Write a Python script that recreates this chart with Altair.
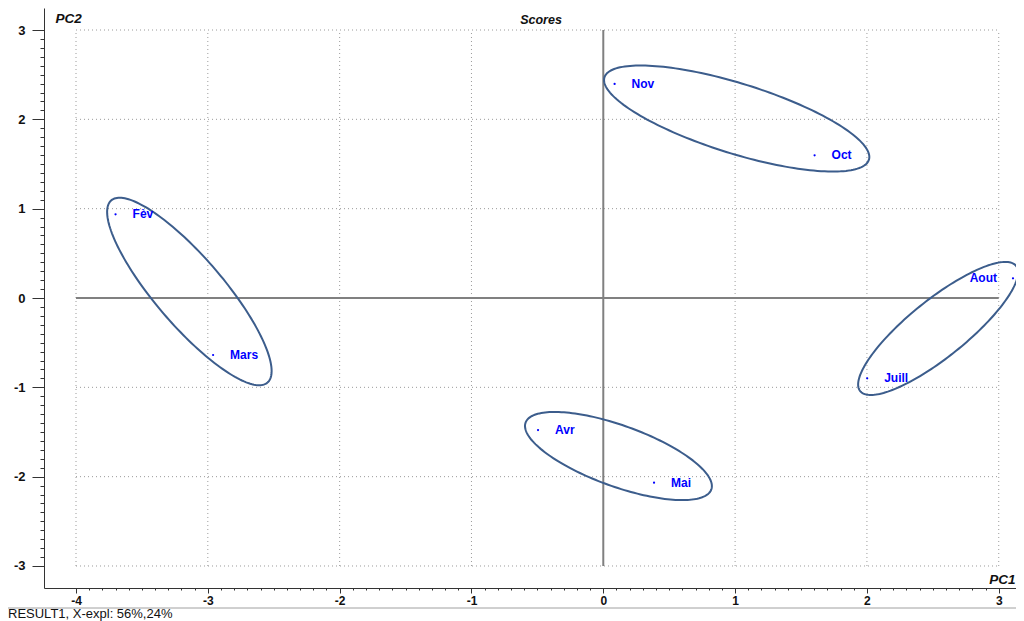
import math
import altair as alt
import pandas as pd

# ---------------- data ----------------
months = ["Fèv", "Mars", "Nov", "Oct", "Aout", "Juill", "Avr", "Mai"]
pc1 = [-3.70, -2.96, 0.086, 1.603, 3.108, 2.002, -0.495, 0.385]
pc2 = [0.937, -0.638, 2.396, 1.597, 0.220, -0.899, -1.478, -2.067]
label_side = ["r", "r", "r", "r", "l", "r", "r", "r"]

# group ellipses: centre (data units), half axes (px), rotation (deg, counter-clockwise)
ell_cx = [-3.140, 1.012, 2.540, 0.115]
ell_cy = [0.073, 2.009, -0.341, -1.769]
ell_a = [120, 138.5, 100, 98.7]
ell_b = [34, 35, 28.7, 30.5]
ell_rot = [-49.4, -17.3, 38.8, -19.8]

major_x = [-4, -3, -2, -1, 0, 1, 2, 3]
major_y = [-3, -2, -1, 0, 1, 2, 3]
minor_x = [round(i * 0.1, 1) for i in range(-40, 31)]
minor_y = [round(i * 0.1, 1) for i in range(-30, 31)]

XDOM = [-4.2428, 3.1309]
YDOM = [-3.2463, 3.2463]
W, H = 972, 580
PXX = W / (XDOM[1] - XDOM[0])
PXY = H / (YDOM[1] - YDOM[0])

FONT = "Liberation Sans"
BLUE = "#0000ff"

pts = pd.DataFrame({"x": pc1, "y": pc2, "m": months, "side": label_side})

rows = []
for k in range(len(ell_cx)):
    th = math.radians(ell_rot[k])
    for i in range(181):
        t = 2 * math.pi * i / 180
        dx = ell_a[k] * math.cos(t) * math.cos(th) - ell_b[k] * math.sin(t) * math.sin(th)
        dy = ell_a[k] * math.cos(t) * math.sin(th) + ell_b[k] * math.sin(t) * math.cos(th)
        rows.append({"e": k, "o": i, "x": ell_cx[k] + dx / PXX, "y": ell_cy[k] + dy / PXY})
ell = pd.DataFrame(rows)

xs = alt.Scale(domain=XDOM, nice=False, zero=False)
ys = alt.Scale(domain=YDOM, nice=False, zero=False)

is_int = "abs(datum.value - round(datum.value)) < 0.001"

xaxis = alt.Axis(
    values=minor_x, grid=False, labelExpr=f"{is_int} ? '' + round(datum.value) : ''",
    tickSize={"condition": {"test": is_int, "value": 5}, "value": 2},
    tickColor="#333", domainColor="#333", labelColor="#111",
    labelFont=FONT, labelFontSize=12, labelFontWeight="bold", labelPadding=2,
    labelOverlap=False, labelFlush=False,
    title="PC1", titleFont=FONT, titleFontSize=13.5, titleFontStyle="italic",
    titleFontWeight="bold", titleAlign="right", titleBaseline="alphabetic",
    titleX=971, titleY=-5, titleColor="#111",
)
yaxis = alt.Axis(
    values=minor_y, grid=False, labelExpr=f"{is_int} ? '' + round(datum.value) : ''",
    tickSize={"condition": {"test": is_int, "value": 12}, "value": 4},
    tickColor="#333", domainColor="#333", labelColor="#111",
    labelFont=FONT, labelFontSize=13, labelFontWeight="bold", labelPadding=7,
    labelOverlap=False, labelFlush=False,
    title="PC2", titleFont=FONT, titleFontSize=13.5, titleFontStyle="italic",
    titleFontWeight="bold", titleAngle=0, titleAlign="left", titleBaseline="alphabetic",
    titleX=11, titleY=14, titleColor="#111",
)


def X(field="x"):
    return alt.X(f"{field}:Q", scale=xs, axis=xaxis)


def Y(field="y"):
    return alt.Y(f"{field}:Q", scale=ys, axis=yaxis)


gv = pd.DataFrame({"x": [v for v in major_x if v != 0], "y": -3, "y1": 3})
gh = pd.DataFrame({"y": [v for v in major_y if v != 0], "x": -4, "x1": 3})
zv = pd.DataFrame({"x": [0], "y": [-3], "y1": [3]})
zh = pd.DataFrame({"y": [0], "x": [-4], "x1": [3]})

grid_v = alt.Chart(gv).mark_rule(color="#9a9a9a", strokeDash=[1, 3], strokeWidth=1).encode(
    x=X(), y=Y(), y2="y1:Q")
grid_h = alt.Chart(gh).mark_rule(color="#9a9a9a", strokeDash=[1, 3], strokeWidth=1).encode(
    y=Y(), x=X(), x2="x1:Q")
zero_v = alt.Chart(zv).mark_rule(color="#808080", strokeWidth=2).encode(
    x=X(), y=Y(), y2="y1:Q")
zero_h = alt.Chart(zh).mark_rule(color="#808080", strokeWidth=2).encode(
    y=Y(), x=X(), x2="x1:Q")

ellipses = alt.Chart(ell).mark_line(color="#3c5d8c", strokeWidth=2, clip=True).encode(
    x=X(), y=Y(), detail="e:N", order="o:Q")

dots = alt.Chart(pts).mark_circle(color=BLUE, size=5, opacity=1).encode(x=X(), y=Y())

lab_r = alt.Chart(pts).transform_filter("datum.side == 'r'").mark_text(
    align="left", baseline="middle", dx=17, font=FONT, fontSize=12, fontWeight="bold", color=BLUE
).encode(x=X(), y=Y(), text="m:N")
lab_l = alt.Chart(pts).transform_filter("datum.side == 'l'").mark_text(
    align="right", baseline="middle", dx=-16, font=FONT, fontSize=12, fontWeight="bold", color=BLUE
).encode(x=X(), y=Y(), text="m:N")

ann = pd.DataFrame({"t": ["Scores"]})
title_txt = alt.Chart(ann).mark_text(
    align="center", baseline="alphabetic", font=FONT, fontSize=12.5, fontStyle="italic",
    fontWeight="bold", color="#111"
).encode(x=alt.value(497), y=alt.value(16), text="t:N")

res = pd.DataFrame({"t": ["RESULT1, X-expl: 56%,24%"]})
result_txt = alt.Chart(res).mark_text(
    align="left", baseline="alphabetic", font=FONT, fontSize=13, color="#111"
).encode(x=alt.value(-36), y=alt.value(610), text="t:N")

sep = alt.Chart(res).mark_rule(color="#a0a0a0", strokeWidth=1).encode(
    x=alt.value(-36), x2=alt.value(972), y=alt.value(600))

chart = alt.layer(
    grid_v, grid_h, zero_v, zero_h, ellipses, dots, lab_r, lab_l, title_txt, sep, result_txt
).properties(
    width=W, height=H, autosize="none",
    padding={"left": 36, "top": 0, "right": 0, "bottom": 33},
).configure_view(strokeWidth=0)

chart.save("out.html", embed_options={"renderer": "svg", "actions": False})
